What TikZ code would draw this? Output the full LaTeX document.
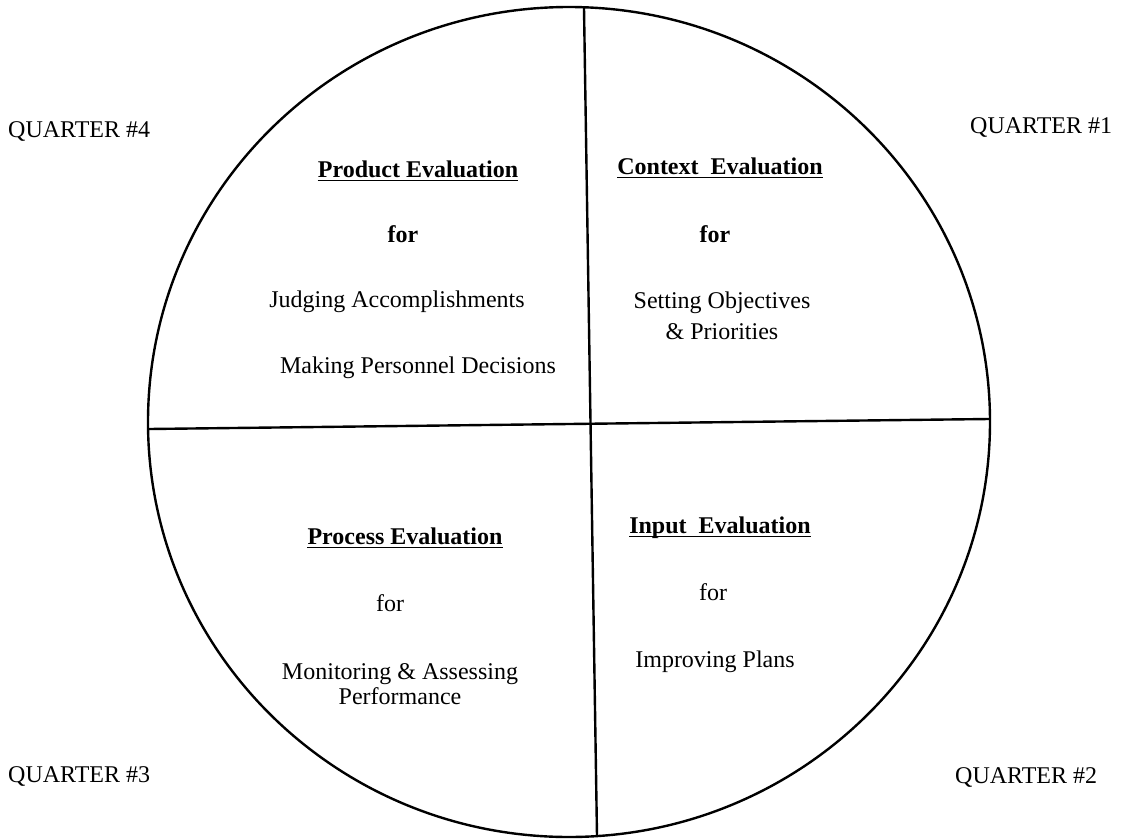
\documentclass[tikz,border=0pt]{standalone}
\usepackage{fontspec}
\setmainfont{Liberation Serif}
\begin{document}
\begin{tikzpicture}[x=1pt,y=-1pt,
  lbl/.style={font=\fontsize{24}{28}\selectfont, inner sep=0pt},
  hdr/.style={font=\fontsize{24}{28}\selectfont\bfseries, inner sep=0pt},
  bfor/.style={hdr},
  two/.style={lbl, align=center},
  edge/.style={line width=2.4pt},
  uline/.style={line width=1.6pt}]
\useasboundingbox (0,0) rectangle (1128,839);
\draw[edge] (569,422) ellipse [x radius=421, y radius=415];
\coordinate (hl) at (149,429);
\coordinate (hr) at (989,419);
\coordinate (vt) at (584,8);
\coordinate (vb) at (597,836);
\draw[edge] (hl) -- (hr);
\draw[edge] (vt) -- (vb);
% quarter labels
\node[lbl, anchor=west] (q4) at (8,131) {QUARTER \#4};
\node[lbl, anchor=west] (q1) at (970,127) {QUARTER \#1};
\node[lbl, anchor=west] (q3) at (8,776) {QUARTER \#3};
\node[lbl, anchor=west] (q2) at (955,777) {QUARTER \#2};
% quarter 4
\node[hdr] (ph) at (418,169) {Product Evaluation};
\node[bfor] (pf) at (403,234) {for};
\node[lbl] (pj) at (397,302) {Judging Accomplishments};
\node[lbl] (pm) at (418,368) {Making Personnel Decisions};
% quarter 1
\node[hdr] (ch) at (720,166) {Context\ \ Evaluation};
\node[bfor] (cf) at (715,234) {for};
\node[two] (cs) at (722,316) {Setting Objectives\\[3pt]\& Priorities};
% quarter 3
\node[hdr] (prh) at (405,536) {Process Evaluation};
\node[lbl] (prf) at (390,603) {for};
\node[two] (prm) at (400,684) {Monitoring \& Assessing\\[-3pt]Performance};
% quarter 2
\node[hdr, anchor=base] (ih) at (720,533) {\vphantom{I}Input\ \ Evaluation};
\node[lbl] (if) at (713,592) {for};
\node[lbl] (ii) at (715,662) {Improving Plans};
% underlines
\foreach \h in {ph,ch,prh,ih}
  \draw[uline] ([yshift=-3.5pt]\h.base west) -- ([yshift=-3.5pt]\h.base east);
\end{tikzpicture}
\end{document}
